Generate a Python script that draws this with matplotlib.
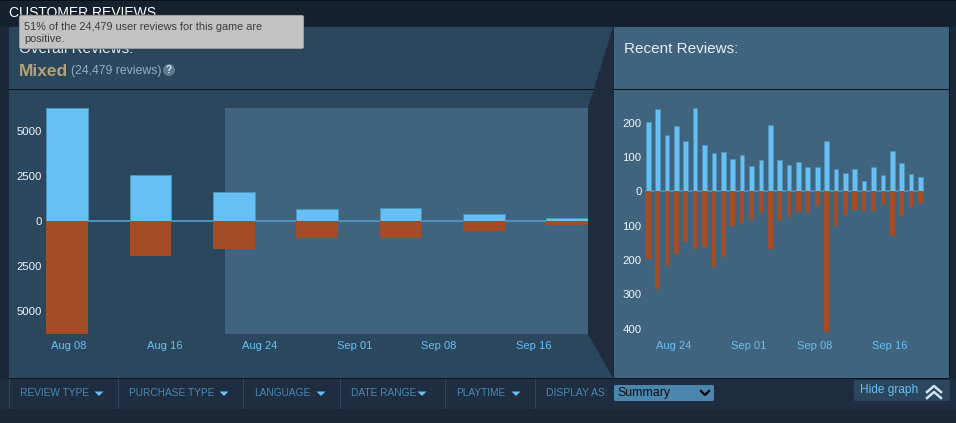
import numpy as np
import matplotlib
matplotlib.use("Agg")
import matplotlib.pyplot as plt
import matplotlib.dates as mdates
from matplotlib.patches import FancyBboxPatch, Polygon, Rectangle, Circle
from datetime import datetime

# ---- data ----
overall_dates = ["2023-08-08", "2023-08-15", "2023-08-22", "2023-08-29", "2023-09-05", "2023-09-12", "2023-09-19"]
overall_up = [6280, 2560, 1610, 680, 700, 400, 150]
overall_down = [6280, 1940, 1530, 930, 930, 560, 200]
overall_ticks = ["2023-08-08", "2023-08-16", "2023-08-24", "2023-09-01", "2023-09-08", "2023-09-16"]
overall_yticks = [-5000, -2500, 0, 2500, 5000]

recent_start = "2023-08-21"
recent_up = [200, 240, 163, 190, 146, 243, 135, 110, 113, 93, 105, 73, 90, 192, 90,
             77, 84, 70, 70, 146, 65, 54, 64, 30, 72, 46, 116, 81, 50, 43]
recent_down = [198, 285, 218, 183, 146, 168, 163, 220, 190, 102, 92, 84, 63, 168, 87,
               76, 60, 62, 43, 410, 100, 68, 55, 58, 57, 40, 131, 71, 47, 33]
recent_ticks = ["2023-08-24", "2023-09-01", "2023-09-08", "2023-09-16"]
recent_yticks = [-400, -300, -200, -100, 0, 100, 200]

filters = ["REVIEW TYPE", "PURCHASE TYPE", "LANGUAGE", "DATE RANGE", "PLAYTIME"]
filter_x = [20, 129, 254, 351, 456]
filter_arrow_x = [99, 224, 321, 422, 516]
filter_sep = [9, 118, 243, 340, 445, 535]

# ---- style ----
W, H = 956, 423
plt.rcParams["font.family"] = ["Liberation Sans", "DejaVu Sans"]
BLUE, RUST = "#66c0f4", "#a34c25"
EDGE = "#4f93bb"
PANEL_L, PANEL_R = "#2a475e", "#40637e"
fig = plt.figure(figsize=(W / 100, H / 100), dpi=100, facecolor="#1b2838")

def px_axes(x0, y0, x1, y1):
    return fig.add_axes([x0 / W, 1 - y1 / H, (x1 - x0) / W, (y1 - y0) / H])

bg = fig.add_axes([0, 0, 1, 1])
bg.set_xlim(0, W); bg.set_ylim(H, 0); bg.axis("off")

def rect(x0, y0, x1, y1, c, z=1):
    bg.add_patch(Rectangle((x0, y0), x1 - x0, y1 - y0, fc=c, ec="none", zorder=z))

rect(0, 0, W, 1, "#0b1118")
rect(0, 1, W, 27, "#16212f")
# panels
rect(9, 27, 613, 378, PANEL_L)
rect(9, 89, 595, 90, "#0c1218", 2)
bg.add_patch(Polygon([(613, 27), (588, 108), (588, 334), (613, 378)], fc="#1f2c3e", ec="none", zorder=3))
rect(614, 27, 949, 378, PANEL_R, 3)
rect(9, 378, 949, 379, "#0e141c", 3)
rect(949, 27, 950, 378, "#0e141c", 3)
rect(614, 89, 949, 90, "#0c1218", 4)
rect(225, 108, 588, 334, PANEL_R, 3)
# filter bar
rect(0, 379, W, 409, "#1e2d40", 1)
for sx in filter_sep:
    rect(sx, 378, sx + 1, 409, "#30475f", 2)
for t, tx, ax_ in zip(filters, filter_x, filter_arrow_x):
    bg.text(tx, 393.5, t, color="#4a88b5", fontsize=7.3, va="center", ha="left", zorder=4)
    bg.add_patch(Polygon([(ax_ - 4.5, 391.5), (ax_ + 4.5, 391.5), (ax_, 396)], fc=BLUE, ec="none", zorder=4))
bg.text(546, 393.5, "DISPLAY AS:", color="#4a88b5", fontsize=7.5, va="center", zorder=4)
bg.add_patch(FancyBboxPatch((614, 385), 100, 16, boxstyle="round,pad=0,rounding_size=1.5", fc="#4a86ad", ec="none", zorder=4))
bg.text(617, 393, "Summary", color="#0a0f14", fontsize=8.8, va="center", zorder=5)
bg.plot([701, 705, 709], [391, 395, 391], color="#000000", lw=1.6, zorder=5)
# hide graph
bg.add_patch(FancyBboxPatch((854, 380), 96, 21, boxstyle="round,pad=0,rounding_size=1.5", fc="#2a475e", ec="none", zorder=4))
bg.text(860, 390, "Hide graph", color=BLUE, fontsize=8.6, va="center", zorder=5)
for dy in (0, 6):
    bg.plot([927, 934, 941], [392 + dy, 386 + dy, 392 + dy], color="#d5e2ea", lw=1.8, zorder=5)
# headings
bg.text(9, 13, "CUSTOMER REVIEWS", color="white", fontsize=10, va="center", zorder=2)
bg.text(19, 49, "Overall Reviews:", color="#e5eef4", fontsize=11, va="center", zorder=3)
bg.text(624, 49, "Recent Reviews:", color="#e5eef4", fontsize=11, va="center", zorder=5)
bg.text(19, 71, "Mixed", color="#b9a074", fontsize=12.5, fontweight="bold", va="center", zorder=3)
bg.text(71, 71, "(24,479 reviews)", color="#8fb0c6", fontsize=8.8, va="center", zorder=3)
bg.add_patch(Circle((169, 70), 6, fc="#5d7a91", ec="none", zorder=3))
bg.text(169, 70, "?", color="#dce6ec", fontsize=7, fontweight="bold", va="center", ha="center", zorder=4)
# tooltip
bg.add_patch(FancyBboxPatch((19, 15), 285, 34, boxstyle="round,pad=0,rounding_size=2",
                            fc="#c2c2c2", ec="#3a3a3a", lw=0.4, zorder=10))
bg.text(24, 26.5, "51% of the 24,479 user reviews for this game are", color="#3d3d3f", fontsize=7.85, va="center", zorder=11)
bg.text(24, 38.5, "positive.", color="#3d3d3f", fontsize=7.85, va="center", zorder=11)

def to_num(s):
    return mdates.date2num(datetime.strptime(s, "%Y-%m-%d"))

def style(ax, yt, ylabels, ticks, labels, ypad, xpad):
    ax.patch.set_alpha(0)
    for s in ax.spines.values():
        s.set_visible(False)
    ax.set_yticks(yt, ylabels, color="#f2f5f7", fontsize=8.2)
    ax.set_xticks(ticks, labels, color=BLUE, fontsize=8)
    ax.tick_params(length=0)
    ax.tick_params(axis="y", pad=ypad)
    ax.tick_params(axis="x", pad=xpad)

# overall chart
DAY_L = 11.91
ax1 = px_axes(46, 108, 588, 334)
ax1.set_zorder(5)
d0 = to_num(overall_dates[0])
ax1.set_xlim(d0 + (46 - 69) / DAY_L, d0 + (588 - 69) / DAY_L)
ax1.set_ylim(-6280, 6280)
xs = [to_num(d) - 0.17 for d in overall_dates]
ax1.bar(xs, overall_up, width=3.5, color=BLUE, edgecolor=EDGE, linewidth=0.7, zorder=3)
ax1.bar(xs, [-v for v in overall_down], width=3.5, color=RUST, zorder=3)
ax1.axhline(25, color=EDGE, lw=1.4, zorder=2)
style(ax1, overall_yticks, [str(abs(v)) for v in overall_yticks],
      [to_num(t) for t in overall_ticks],
      [datetime.strptime(t, "%Y-%m-%d").strftime("%b %d") for t in overall_ticks], 3, 5)

# recent chart
DAY_R = 9.39
ax2 = px_axes(640, 108, 930, 334)
ax2.set_zorder(5)
t0 = to_num(recent_ticks[0])
ax2.set_xlim(t0 + (640 - 674) / DAY_R, t0 + (930 - 674) / DAY_R)
# 0 at y=191.3, 100 per 34.4 px
ax2.set_ylim(-(334 - 191.3) / 0.344, (191.3 - 108) / 0.344)
rx = [to_num(recent_start) + i for i in range(len(recent_up))]
ax2.bar(rx, recent_up, width=0.5, align="edge", color=BLUE, edgecolor=EDGE, linewidth=0.5, zorder=3)
ax2.bar(rx, [-v for v in recent_down], width=0.5, align="edge", color=RUST, zorder=3)
ax2.plot([rx[0], rx[-1] + 0.5], [0, 0], color=EDGE, lw=1.2, zorder=2)
style(ax2, recent_yticks, [str(abs(v)) for v in recent_yticks],
      [to_num(t) for t in recent_ticks],
      [datetime.strptime(t, "%Y-%m-%d").strftime("%b %d") for t in recent_ticks], -1, 5)

fig.savefig("out.png", dpi=100, facecolor=fig.get_facecolor())
